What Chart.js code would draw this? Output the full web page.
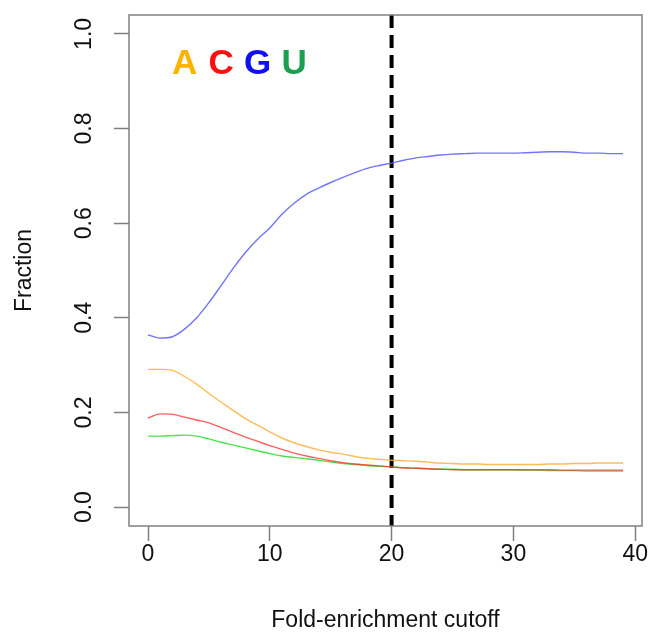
<!DOCTYPE html>
<html>
<head>
<meta charset="utf-8">
<script src="https://cdn.jsdelivr.net/npm/chart.js@4.4.1/dist/chart.umd.min.js"></script>
<style>
  html, body { margin: 0; padding: 0; background: #fff; }
  canvas { display: block; }
</style>
</head>
<body>
<canvas id="chart" width="655" height="632"></canvas>
<script>
// Fold-enrichment cutoffs (x values)
var cutoffs = [0, 1, 2, 3, 4, 5, 6, 7, 8, 9, 10, 11, 12, 13, 14, 15, 16, 17, 18, 19,
    20, 21, 22, 23, 24, 25, 26, 27, 28, 29, 30, 31, 32, 33, 34, 35, 36, 37, 38, 39];

// Fraction of each nucleotide at every cutoff
var fracA = [0.291, 0.291, 0.289, 0.276, 0.260, 0.240, 0.222, 0.204, 0.187, 0.173,
    0.159, 0.146, 0.136, 0.128, 0.121, 0.116, 0.112, 0.107, 0.103, 0.101,
    0.099, 0.098, 0.097, 0.095, 0.093, 0.092, 0.091, 0.091, 0.090, 0.090,
    0.090, 0.090, 0.090, 0.091, 0.091, 0.092, 0.092, 0.093, 0.093, 0.093];
var fracC = [0.188, 0.197, 0.196, 0.190, 0.184, 0.178, 0.168, 0.158, 0.148, 0.139,
    0.130, 0.122, 0.114, 0.108, 0.103, 0.098, 0.094, 0.091, 0.089, 0.087,
    0.085, 0.083, 0.082, 0.081, 0.080, 0.079, 0.079, 0.079, 0.079, 0.079,
    0.079, 0.079, 0.079, 0.079, 0.078, 0.078, 0.078, 0.078, 0.078, 0.078];
var fracG = [0.364, 0.357, 0.360, 0.376, 0.400, 0.432, 0.468, 0.505, 0.538, 0.566,
    0.590, 0.619, 0.642, 0.661, 0.674, 0.686, 0.697, 0.707, 0.716, 0.722,
    0.727, 0.733, 0.738, 0.741, 0.744, 0.746, 0.747, 0.748, 0.748, 0.748,
    0.748, 0.749, 0.750, 0.751, 0.751, 0.750, 0.748, 0.748, 0.747, 0.747];
var fracU = [0.150, 0.150, 0.151, 0.152, 0.150, 0.144, 0.137, 0.131, 0.125, 0.119,
    0.113, 0.108, 0.105, 0.102, 0.099, 0.095, 0.092, 0.090, 0.088, 0.086,
    0.085, 0.083, 0.082, 0.081, 0.080, 0.080, 0.079, 0.079, 0.079, 0.079,
    0.079, 0.078, 0.078, 0.077, 0.077, 0.077, 0.076, 0.076, 0.076, 0.076];

// Chosen cutoff (dashed line)
var cutoffValue = 20;

// Tick labels
var xTicks = [0, 10, 20, 30, 40];
var yTicks = [0, 0.2, 0.4, 0.6, 0.8, 1.0];

// Letter key
var letters = ['A', 'C', 'G', 'U'];

var xMin = -1.56, xMax = 40.56;
var yMin = -0.04, yMax = 1.04;
var axisGrey = '#808080';
var fontFamily = "'Liberation Sans', Arial, Helvetica, sans-serif";

Chart.defaults.font.family = fontFamily;
Chart.defaults.color = '#111';

function toPoints(ys) {
    return cutoffs.map(function(x, i) {
        return {x: x, y: ys[i]};
    });
}

function lineSet(label, ys, color) {
    return {
        label: label,
        data: toPoints(ys),
        borderColor: color,
        borderWidth: 1.4,
        pointRadius: 0,
        cubicInterpolationMode: 'monotone',
        fill: false
    };
}

// Fixed axis sizes, no extra padding for edge labels
function fixSize(prop, size) {
    return function(scale) {
        scale[prop] = size;
        scale.paddingTop = 0;
        scale.paddingBottom = 0;
        scale.paddingLeft = 0;
        scale.paddingRight = 0;
    };
}

/**
 * Box around the plot region and the coloured letter key.
 */
var decorPlugin = {
    id: 'decor',
    afterDraw: function(chart) {
        var ctx = chart.ctx;
        var area = chart.chartArea;
        var xs = chart.scales.x;
        var ys = chart.scales.y;
        var keyX = [3, 6, 9, 12];
        var keyColors = ['#FFB300', '#FF1010', '#1010EE', '#1AA050'];

        ctx.save();
        ctx.strokeStyle = axisGrey;
        ctx.lineWidth = 1.5;
        ctx.strokeRect(area.left, area.top, area.right - area.left, area.bottom - area.top);

        ctx.font = 'bold 35px ' + fontFamily;
        ctx.textAlign = 'center';
        ctx.textBaseline = 'alphabetic';
        letters.forEach(function(l, i) {
            ctx.fillStyle = keyColors[i];
            ctx.fillText(l, xs.getPixelForValue(keyX[i]), ys.getPixelForValue(0.915));
        });
        ctx.restore();
    }
};

new Chart(document.getElementById('chart'), {
    type: 'line',
    data: {
        datasets: [
            lineSet('G', fracG, 'rgba(90, 90, 255, 0.85)'),
            lineSet('A', fracA, 'rgba(255, 170, 50, 0.8)'),
            lineSet('C', fracC, 'rgba(255, 40, 40, 0.75)'),
            lineSet('U', fracU, 'rgba(30, 220, 30, 0.8)'),
            {
                label: 'cutoff',
                data: [{x: cutoffValue, y: yMax}, {x: cutoffValue, y: yMin}],
                borderColor: '#000',
                borderWidth: 4,
                borderDash: [13, 7],
                pointRadius: 0,
                fill: false
            }
        ]
    },
    options: {
        responsive: false,
        animation: false,
        devicePixelRatio: 1,
        layout: {
            padding: {left: 0, top: 15, right: 13, bottom: 0}
        },
        plugins: {
            legend: {display: false},
            tooltip: {enabled: false}
        },
        scales: {
            x: {
                type: 'linear',
                min: xMin,
                max: xMax,
                afterFit: fixSize('height', 106),
                afterBuildTicks: function(scale) {
                    scale.ticks = xTicks.map(function(v) {
                        return {value: v};
                    });
                },
                grid: {
                    display: true,
                    drawOnChartArea: false,
                    drawTicks: true,
                    tickLength: 15,
                    tickColor: axisGrey,
                    tickWidth: 1.5
                },
                border: {display: false},
                ticks: {
                    autoSkip: false,
                    maxRotation: 0,
                    padding: 0,
                    font: {size: 23},
                    color: '#111',
                    callback: function(v) {
                        return String(v);
                    }
                },
                title: {
                    display: true,
                    text: 'Fold-enrichment cutoff',
                    font: {size: 23},
                    color: '#111',
                    padding: {top: 0, bottom: -2}
                }
            },
            y: {
                type: 'linear',
                min: yMin,
                max: yMax,
                afterFit: fixSize('width', 129),
                afterBuildTicks: function(scale) {
                    scale.ticks = yTicks.map(function(v) {
                        return {value: v};
                    });
                },
                grid: {
                    display: true,
                    drawOnChartArea: false,
                    drawTicks: true,
                    tickLength: 15,
                    tickColor: axisGrey,
                    tickWidth: 1.5
                },
                border: {display: false},
                ticks: {
                    autoSkip: false,
                    minRotation: 90,
                    maxRotation: 90,
                    crossAlign: 'center',
                    padding: 13,
                    font: {size: 23},
                    color: '#111',
                    callback: function(v) {
                        return Number(v).toFixed(1);
                    }
                },
                title: {
                    display: true,
                    text: 'Fraction',
                    font: {size: 23},
                    color: '#111',
                    padding: {top: 11, bottom: 0}
                }
            }
        }
    },
    plugins: [decorPlugin]
});
</script>
</body>
</html>
